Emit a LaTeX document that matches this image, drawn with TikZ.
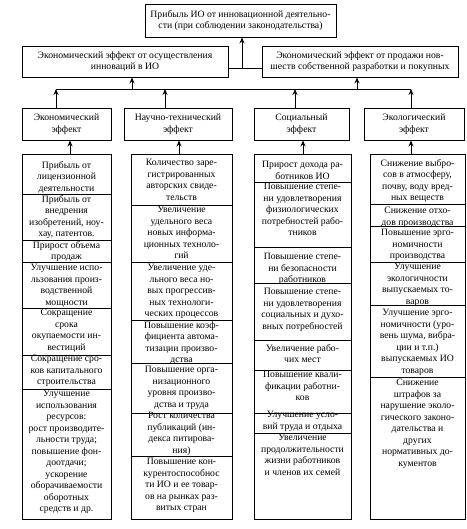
\documentclass[tikz,border=0pt]{standalone}
\usepackage{fontspec}
\setmainfont{Liberation Serif}
\usepackage{tikz}
\usetikzlibrary{calc,arrows.meta}

\begin{document}
\begin{tikzpicture}[x=1pt,y=-1pt,>={Stealth[length=6pt,width=5pt]},line width=.9pt,
  box/.style={draw,inner sep=0pt,align=center,font=\fontsize{9.7}{11.5}\selectfont},
  txt/.style={anchor=north,inner xsep=0pt,inner ysep=1pt,align=center,font=\fontsize{9.7}{11.5}\selectfont}]
  \useasboundingbox (0,0) rectangle (466,529);
  \node[box,minimum width=191,minimum height=33] (profit) at (240.5,20.5) {Прибыль ИО от инновационной деятельно-\\сти (при соблюдении законодательства)};
  \node[box,minimum width=206,minimum height=31] (econA) at (125,61.5) {Экономический эффект от осуществления\\инноваций в ИО};
  \node[box,minimum width=196,minimum height=31] (econB) at (360,61.5) {Экономический эффект от продажи нов-\\шеств собственной разработки и покупных};
  \node[box,minimum width=89,minimum height=32] (eco) at (66.5,124) {Экономический\\эффект};
  \node[box,minimum width=108,minimum height=32] (sci) at (178,124) {Научно-технический\\эффект};
  \node[box,minimum width=95,minimum height=32] (soc) at (301.5,124) {Социальный\\эффект};
  \node[box,minimum width=100,minimum height=32] (ecol) at (414,124) {Экологический\\эффект};
  \node[box,minimum width=89,minimum height=365] (colA) at (66.5,336.5) {};
  \node[box,minimum width=101,minimum height=365] (colB) at (181.5,336.5) {};
  \node[box,minimum width=97,minimum height=365] (colC) at (302.5,336.5) {};
  \node[box,minimum width=95,minimum height=365] (colD) at (417.5,336.5) {};
  \draw (22,194)--(111,194) (22,240)--(111,240) (22,262)--(111,262) (22,308)--(111,308) (22,355)--(111,355) (22,389)--(111,389);
  \draw (131,205)--(232,205) (131,262)--(232,262) (131,320)--(232,320) (131,363)--(232,363) (131,413)--(232,413) (131,456)--(232,456);
  \draw (254,182)--(351,182) (254,247)--(351,247) (254,283)--(351,283) (254,340)--(351,340) (254,370)--(351,370) (254,413)--(351,413) (254,433)--(351,433);
  \draw (370,204)--(465,204) (370,226)--(465,226) (370,262)--(465,262) (370,305)--(465,305) (370,377)--(465,377);
  \node[txt] (a1) at (66.5,160) {Прибыль от\\лицензионной\\деятельности};
  \node[txt] (a2) at (66.5,194) {Прибыль от\\внедрения\\изобретений, ноу-\\хау, патентов.};
  \node[txt] (a3) at (66.5,240) {Прирост объема\\продаж};
  \node[txt] (a4) at (66.5,263) {Улучшение испо-\\льзования произ-\\водственной\\мощности};
  \node[txt] (a5) at (66.5,308) {Сокращение\\срока\\окупаемости ин-\\вестиций};
  \node[txt] (a6) at (66.5,354) {Сокращение сро-\\ков капитального\\строительства};
  \node[txt] (a7) at (66.5,389) {Улучшение\\использования\\ресурсов:\\рост производите-\\льности труда;\\повышение фон-\\доотдачи;\\ускорение\\оборачиваемости\\оборотных\\средств и др.};
  \node[txt] (n1) at (181.5,158) {Количество заре-\\гистрированных\\авторских свиде-\\тельств};
  \node[txt] (n2) at (181.5,205) {Увеличение\\удельного веса\\новых информа-\\ционных техноло-\\гий};
  \node[txt] (n3) at (181.5,263) {Увеличение уде-\\льного веса но-\\вых прогрессив-\\ных технологи-\\ческих процессов};
  \node[txt] (n4) at (181.5,320) {Повышение коэф-\\фициента автома-\\тизации произво-\\дства};
  \node[txt] (n5) at (181.5,365) {Повышение орга-\\низационного\\уровня произво-\\дства и труда};
  \node[txt] (n6) at (181.5,411) {Рост количества\\публикаций (ин-\\декса питирова-\\ния)};
  \node[txt] (n7) at (181.5,457) {Повышение кон-\\курентоспособнос\\ти ИО и ее товар-\\ов на рынках раз-\\витых стран};
  \node[txt] (s1) at (302.5,160) {Прирост дохода ра-\\ботников ИО};
  \node[txt] (s2) at (302.5,182) {Повышение степе-\\ни удовлетворения\\физиологических\\потребностей рабо-\\тников};
  \node[txt] (s3) at (302.5,252) {Повышение степе-\\ни безопасности\\работников};
  \node[txt] (s4) at (302.5,287) {Повышение степе-\\ни удовлетворения\\социальных и духо-\\вных потребностей};
  \node[txt] (s5) at (302.5,343) {Увеличение рабо-\\чих мест};
  \node[txt] (s6) at (302.5,370) {Повышение квали-\\фикации работни-\\ков};
  \node[txt] (s7) at (302.5,410) {Улучшение усло-\\вий труда и отдыха};
  \node[txt] (s8) at (302.5,433) {Увеличение\\продолжительности\\жизни работников\\и членов их семей};
  \node[txt] (g1) at (417.5,158) {Снижение выбро-\\сов в атмосферу,\\почву, воду вред-\\ных веществ};
  \node[txt] (g2) at (417.5,206) {Снижение отхо-\\дов производства};
  \node[txt] (g3) at (417.5,228) {Повышение эрго-\\номичности\\производства};
  \node[txt] (g4) at (417.5,262) {Улучшение\\экологичности\\выпускаемых то-\\варов};
  \node[txt] (g5) at (417.5,308) {Улучшение эрго-\\номичности (уро-\\вень шума, вибра-\\ции и т.п.)\\выпускаемых ИО\\товаров};
  \node[txt] (g6) at (417.5,378) {Снижение\\штрафов за\\нарушение эколо-\\гического законо-\\дательства и\\других\\нормативных до-\\кументов};
  \coordinate (J) at (242,68);
  \draw (econA.east |- J) -- (econB.west |- J);
  \draw[->] (J) -- (J |- profit.south);
  \coordinate (b1) at (56,89); \coordinate (b2) at (165,89);
  \coordinate (b3) at (295,89); \coordinate (b4) at (411,89);
  \coordinate (u1) at (132,89); \coordinate (u2) at (357,89);
  \draw (b1) -- (b4);
  \draw[->] (u1) -- (u1 |- econA.south);
  \draw[->] (u2) -- (u2 |- econB.south);
  \draw[->] (eco.north -| b1) -- (b1);
  \draw[->] (sci.north -| b2) -- (b2);
  \draw[->] (soc.north -| b3) -- (b3);
  \draw[->] (ecol.north -| b4) -- (b4);
  \draw[->] ([xshift=3.5]colA.north) -- ([xshift=3.5]eco.south);
  \draw[->] ([xshift=-2.5]colB.north) -- ([xshift=1]sci.south);
  \draw[->] ([xshift=.5]colC.north) -- ([xshift=1.5]soc.south);
  \draw[->] ([xshift=-6.5]colD.north) -- ([xshift=-3]ecol.south);
\end{tikzpicture}
\end{document}
